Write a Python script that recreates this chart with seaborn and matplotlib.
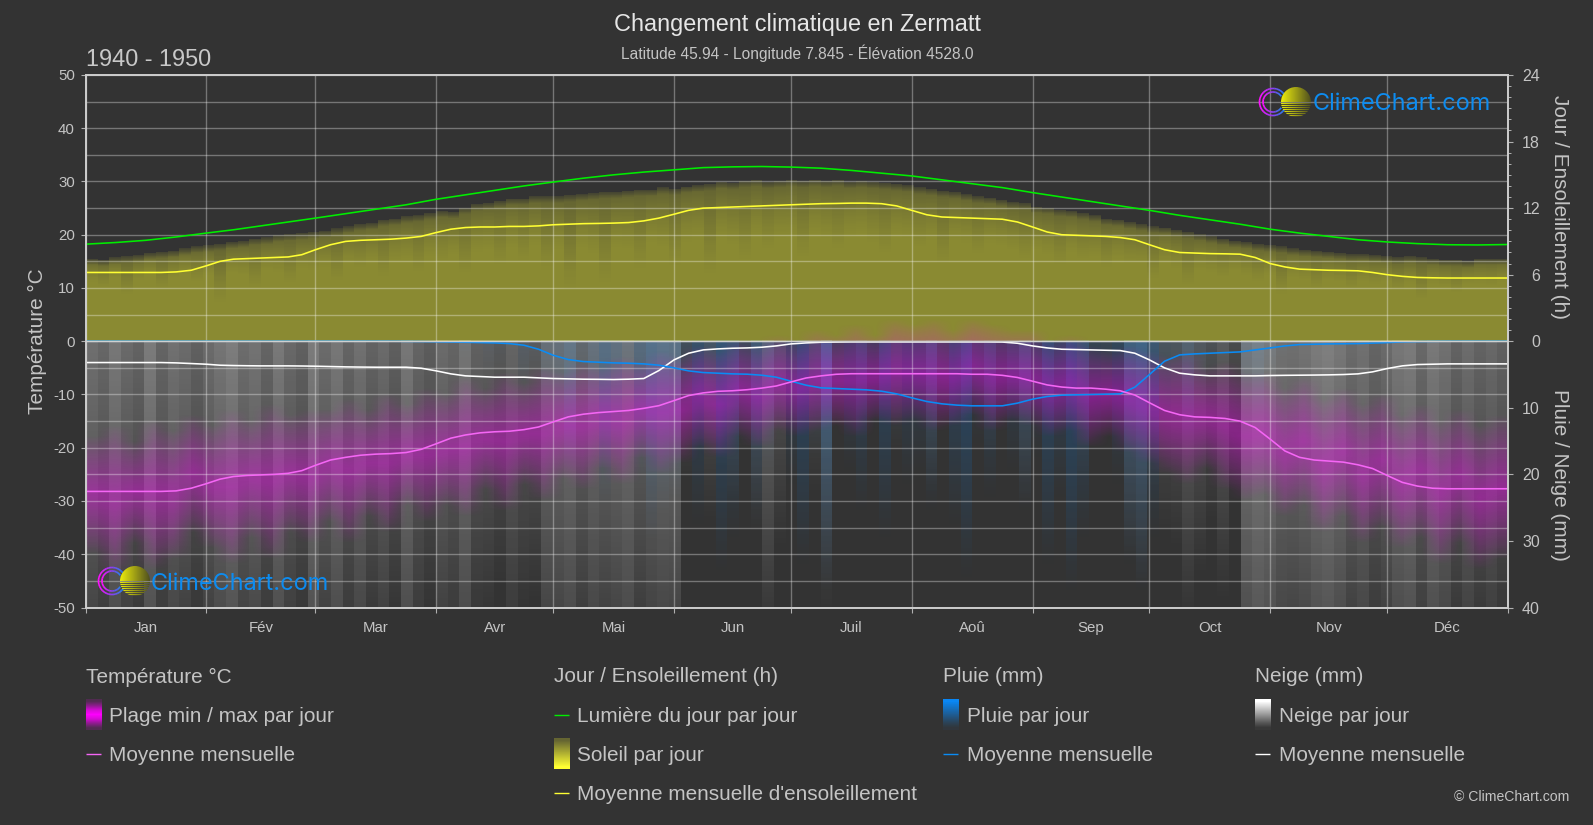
import numpy as np
import matplotlib
matplotlib.use("Agg")
import matplotlib.pyplot as plt
import seaborn as sns
from matplotlib.colors import LinearSegmentedColormap
from matplotlib.patches import Arc, Circle

BG = "#333333"
TXT = "#c4c4c4"
W_PX, H_PX = 1593, 825

months = ["Jan", "Fév", "Mar", "Avr", "Mai", "Jun", "Juil", "Aoû", "Sep", "Oct", "Nov", "Déc"]
month_len = [31, 28, 31, 30, 31, 30, 31, 31, 30, 31, 30, 31]

# monthly curves, read 8 times per month + the year end
temp_mean = [-28.2, -28.2, -28.2, -28.2, -28.2, -28.2, -28.1, -27.6,
             -26.75, -25.9, -25.4, -25.2, -25.1, -25.0, -24.8, -24.3,
             -23.3, -22.3, -21.8, -21.4, -21.2, -21.1, -20.9, -20.3,
             -19.25, -18.2, -17.6, -17.2, -17.0, -16.9, -16.6, -16.1,
             -15.15, -14.2, -13.7, -13.4, -13.2, -13.0, -12.6, -12.1,
             -11.15, -10.2, -9.7, -9.4, -9.3, -9.1, -8.8, -8.4,
             -7.65, -6.9, -6.5, -6.2, -6.1, -6.1, -6.1, -6.1,
             -6.1, -6.1, -6.1, -6.1, -6.2, -6.2, -6.4, -6.8,
             -7.5, -8.2, -8.6, -8.8, -8.8, -9.0, -9.3, -10.1,
             -11.55, -13.0, -13.8, -14.2, -14.3, -14.5, -15.0, -16.2,
             -18.4, -20.6, -21.8, -22.3, -22.5, -22.7, -23.2, -23.9,
             -25.2, -26.5, -27.2, -27.6, -27.7, -27.7, -27.7, -27.7, -27.7]
sun_mean = [6.2, 6.2, 6.2, 6.2, 6.2, 6.2, 6.25, 6.4,
            6.8, 7.2, 7.4, 7.45, 7.5, 7.55, 7.6, 7.8,
            8.25, 8.7, 9.0, 9.1, 9.15, 9.2, 9.3, 9.45,
            9.8, 10.1, 10.25, 10.3, 10.3, 10.35, 10.35, 10.4,
            10.5, 10.55, 10.6, 10.62, 10.65, 10.7, 10.85, 11.1,
            11.45, 11.8, 12.0, 12.05, 12.1, 12.15, 12.2, 12.25,
            12.3, 12.35, 12.4, 12.42, 12.45, 12.45, 12.4, 12.2,
            11.8, 11.4, 11.2, 11.15, 11.1, 11.05, 11.0, 10.75,
            10.3, 9.85, 9.6, 9.55, 9.5, 9.45, 9.35, 9.15,
            8.7, 8.25, 8.0, 7.95, 7.9, 7.88, 7.85, 7.55,
            7.0, 6.7, 6.5, 6.45, 6.4, 6.38, 6.35, 6.2,
            6.0, 5.85, 5.75, 5.72, 5.7, 5.7, 5.7, 5.7, 5.7]
rain_mean = [0, 0, 0, 0, 0, 0, 0, 0,
             0, 0, 0, 0, 0, 0, 0, 0,
             0, 0, 0, 0, 0, 0, 0.02, 0.04,
             0.08, 0.12, 0.15, 0.2, 0.25, 0.35, 0.6, 1.2,
             2.1, 2.75, 3.05, 3.15, 3.25, 3.3, 3.4, 3.6,
             4.0, 4.45, 4.7, 4.8, 4.9, 4.95, 5.1, 5.4,
             6.0, 6.6, 7.0, 7.1, 7.2, 7.3, 7.5, 7.9,
             8.5, 9.05, 9.4, 9.6, 9.7, 9.7, 9.7, 9.3,
             8.7, 8.3, 8.1, 8.05, 8.0, 7.95, 7.9, 6.9,
             5.0, 3.0, 2.05, 1.9, 1.8, 1.7, 1.6, 1.3,
             1.0, 0.7, 0.5, 0.45, 0.4, 0.38, 0.35, 0.28,
             0.2, 0.1, 0.05, 0.02, 0, 0, 0, 0, 0]
snow_mean = [3.2, 3.2, 3.2, 3.2, 3.2, 3.2, 3.25, 3.35,
             3.45, 3.6, 3.65, 3.68, 3.7, 3.7, 3.7, 3.72,
             3.75, 3.8, 3.85, 3.88, 3.9, 3.9, 3.9, 4.05,
             4.45, 4.9, 5.2, 5.3, 5.4, 5.4, 5.4, 5.5,
             5.6, 5.65, 5.7, 5.72, 5.75, 5.7, 5.6, 4.4,
             2.8, 1.8, 1.3, 1.15, 1.05, 1.0, 0.9, 0.7,
             0.4, 0.25, 0.15, 0.12, 0.1, 0.1, 0.1, 0.1,
             0.1, 0.1, 0.1, 0.1, 0.1, 0.1, 0.12, 0.3,
             0.7, 1.0, 1.2, 1.25, 1.3, 1.35, 1.4, 1.8,
             2.8, 4.0, 4.8, 5.05, 5.2, 5.2, 5.2, 5.2,
             5.15, 5.12, 5.1, 5.08, 5.05, 5.0, 4.9, 4.6,
             4.1, 3.7, 3.5, 3.45, 3.4, 3.4, 3.4, 3.4, 3.4]
# the daylight curve is read 4 times per month
daylight = [8.75, 8.9, 9.1, 9.4, 9.75, 10.05, 10.4, 10.75, 11.1, 11.5, 11.9, 12.3,
            12.8, 13.2, 13.6, 14.0, 14.35, 14.7, 15.0, 15.25, 15.45, 15.65, 15.72, 15.75,
            15.7, 15.6, 15.4, 15.15, 14.9, 14.55, 14.2, 13.85, 13.4, 13.0, 12.6, 12.2,
            11.8, 11.35, 10.95, 10.55, 10.1, 9.75, 9.45, 9.15, 8.95, 8.8, 8.7, 8.68, 8.72]

# daily streaks, one value for every 3 days
snow_reach = [60, 52, 68, 55, 48, 72, 50, 62, 56, 46,
              56, 66, 74, 58, 64, 50, 70, 54, 46, 72,
              56, 68, 50, 62, 48, 56, 44, 68, 50, 42,
              56, 50, 66, 46, 44, 38, 50, 42, 40, 60,
              60, 66, 52, 62, 56, 60, 66, 52, 58, 62,
              60, 22, 18, 28, 20, 25, 18, 30, 48, 32,
              14, 12, 24, 42, 14, 10, 16, 8, 12, 18,
              8, 10, 24, 12, 8, 14, 10, 18, 8, 12,
              26, 10, 14, 8, 14, 22, 10, 12, 8, 34,
              38, 24, 30, 32, 44, 36, 28, 40, 24, 70,
              78, 72, 62, 60, 64, 72, 76, 68, 56, 62,
              50, 56, 68, 72, 54, 70, 62, 48, 58, 48, 54, 46]
rain_reach = [0, 0, 0, 0, 0, 0, 0, 0, 0, 0,
              0, 0, 0, 0, 0, 0, 0, 0, 0, 0,
              0, 0, 0, 0, 0, 0, 0, 0, 0, 0,
              0, 0, 3, 0, 5, 4, 0, 8, 5, 10,
              12, 20, 8, 14, 25, 18, 10, 22, 30, 26,
              24, 14, 28, 18, 35, 30, 16, 28, 20, 14,
              22, 34, 18, 38, 12, 20, 26, 14, 30, 16,
              22, 20, 26, 12, 28, 36, 16, 24, 14, 20,
              26, 18, 34, 24, 38, 30, 16, 14, 22, 34,
              38, 30, 12, 10, 16, 8, 6, 4, 3, 10,
              12, 6, 3, 2, 0, 0, 2, 0, 0, 0,
              0, 0, 0, 0, 0, 0, 0, 0, 0, 0, 0, 0]
sun_top = [7.4, 7.3, 7.5, 7.6, 7.7, 7.9, 8.0, 8.1, 8.3, 8.5,
           8.6, 8.7, 8.9, 9.0, 9.2, 9.3, 9.5, 9.6, 9.7, 9.8,
           9.9, 10.1, 10.3, 10.5, 10.6, 10.9, 11.0, 11.2, 11.3, 11.5,
           11.7, 11.6, 12.0, 12.3, 12.4, 12.6, 12.8, 12.8, 13.0, 13.0,
           13.0, 13.1, 13.2, 13.3, 13.4, 13.4, 13.5, 13.6, 13.6, 13.8,
           13.7, 13.9, 14.0, 14.1, 14.3, 14.2, 14.4, 14.5, 14.3, 14.4,
           14.5, 14.4, 14.5, 14.4, 14.5, 14.3, 14.4, 14.3, 14.2, 14.1,
           14.0, 13.8, 13.7, 13.5, 13.4, 13.2, 13.0, 12.9, 12.7, 12.5,
           12.4, 12.1, 12.0, 11.8, 11.7, 11.5, 11.3, 11.0, 10.9, 10.7,
           10.5, 10.3, 10.2, 10.0, 9.8, 9.6, 9.4, 9.2, 9.0, 8.9,
           8.7, 8.6, 8.5, 8.3, 8.2, 8.1, 8.0, 7.9, 7.8, 7.8,
           7.7, 7.6, 7.5, 7.6, 7.5, 7.4, 7.3, 7.3, 7.2, 7.4, 7.4, 7.4]
sun_low = [5.2, 4.8, 5.6, 4.0, 5.4, 5.8, 4.6, 5.6, 5.9, 5.2,
           5.8, 3.2, 6.0, 5.8, 4.6, 6.2, 6.0, 5.0, 6.4, 6.2,
           6.5, 5.2, 6.8, 6.4, 7.0, 5.6, 7.0, 7.2, 6.0, 7.4,
           7.0, 7.6, 5.8, 7.8, 8.0, 6.6, 8.2, 7.0, 8.4, 6.0,
           8.0, 4.2, 8.2, 7.6, 4.8, 8.2, 8.0, 6.2, 8.6, 8.2,
           6.4, 8.6, 8.8, 5.6, 9.0, 8.4, 7.0, 9.2, 8.0, 9.0,
           9.0, 7.2, 9.4, 9.0, 8.0, 9.2, 9.4, 8.6, 7.6, 9.2,
           9.0, 8.2, 8.8, 6.6, 8.8, 8.6, 7.6, 8.6, 8.4, 8.0,
           7.2, 8.0, 7.6, 6.6, 7.8, 7.2, 7.4, 6.4, 7.2, 6.8,
           6.8, 5.4, 6.8, 6.4, 4.8, 6.2, 6.0, 5.6, 6.2, 5.8,
           5.2, 5.8, 4.0, 5.6, 5.4, 4.6, 5.4, 5.2, 4.6, 5.2,
           5.0, 5.2, 4.4, 5.0, 3.6, 5.0, 4.8, 4.2, 5.0, 5.0, 4.9, 5.2]

# min / max range, one value for every 5 days
temp_high = [-18, -16, -19, -15, -17, -14, -16, -13, -15, -12, -14, -13,
             -13, -11, -13, -10, -12, -9, -10, -7, -9, -6, -8, -5,
             -6, -4, -5, -3, -4, -2, -3, -1, -2, 0, -1, 1,
             0, 2, 1, 3, 1, 4, 3, 4, 2, 4, 3, 2,
             2, 0, 1, -1, -2, -1, -2, -3, -2, -5, -4, -6,
             -6, -9, -7, -11, -9, -12, -10, -14, -12, -15, -13, -16, -14]
temp_low = [-40, -44, -38, -43, -41, -36, -39, -42, -37, -41, -36, -38,
            -34, -38, -33, -36, -31, -34, -31, -33, -28, -32, -27, -30,
            -26, -28, -24, -27, -22, -25, -23, -20, -22, -18, -20, -17,
            -18, -17, -16, -18, -15, -16, -15, -17, -16, -14, -17, -15,
            -16, -18, -17, -20, -18, -21, -23, -25, -27, -24, -28, -30,
            -29, -33, -31, -36, -33, -38, -35, -39, -37, -42, -38, -43, -41]

sns.set_theme(style="dark", rc={
    "figure.facecolor": BG, "axes.facecolor": BG, "savefig.facecolor": BG,
    "axes.edgecolor": "#cccccc", "text.color": TXT,
    "xtick.color": "#b0b0b0", "ytick.color": "#b0b0b0",
    "xtick.labelcolor": TXT, "ytick.labelcolor": TXT,
})
plt.rcParams["font.family"] = ["Liberation Sans", "DejaVu Sans"]


def px(size):
    return size * 0.72


def wedge_rgba(reach, rgb, slope, top, limit):
    # streak fades out from the axis line down to its reach
    y = np.linspace(0, top, 400)[:, None]
    reach = np.asarray(reach, float)[None, :]
    img = np.zeros((400, reach.size, 4))
    img[..., :3] = np.array(rgb) / 255
    img[..., 3] = np.clip(slope * (reach - y), 0, limit)
    return img


def sun_rgba(top_vals, low_vals, top):
    y = np.linspace(0, top, 600)[:, None]
    hi = np.asarray(top_vals)[None, :]
    lo = np.asarray(low_vals)[None, :]
    frac = np.clip((y - lo) / (hi - lo), 0, 1)
    img = np.zeros((600, hi.size, 4))
    img[..., :3] = np.array([255, 255, 50]) / 255
    edge = np.clip((hi - y) / 0.9 + 0.35, 0, 1)
    img[..., 3] = np.where(y <= hi, (0.43 - 0.2 * frac ** 1.5) * edge, 0)
    return img


def band_rgba(high, low):
    y = np.linspace(-50, 50, 500)[:, None]
    high = np.asarray(high, float)[None, :]
    low = np.asarray(low, float)[None, :]
    mid = (high + low) / 2
    half = (high - low) / 2
    img = np.zeros((500, high.size, 4))
    img[..., :3] = np.array([255, 0, 255]) / 255
    img[..., 3] = 0.4 * np.clip(1 - np.abs(y - mid) / half, 0, 1) ** 0.8
    return img


fig = plt.figure(figsize=(W_PX / 100, H_PX / 100), dpi=100)
left, right, top, bottom = 85.5, 1508, 75, 607.5
ax = fig.add_axes([left / W_PX, 1 - bottom / H_PX, (right - left) / W_PX, (bottom - top) / H_PX])
ax_sun = ax.twinx()
ax_rain = ax.twinx()
for a in (ax_sun, ax_rain):
    a.patch.set_visible(False)
    a.grid(False)


def set_limits():
    ax.set_xlim(0, 365)
    ax.set_ylim(-50, 50)
    ax_sun.set_ylim(-24, 24)
    ax_rain.set_ylim(40, -40)


set_limits()

ax.imshow(wedge_rgba(snow_reach, (255, 255, 255), 0.005, 40, 0.6), extent=[0, 365, 0, 40], origin="lower",
          aspect="auto", interpolation="nearest", transform=ax_rain.transData, zorder=0.5)
ax.imshow(wedge_rgba(rain_reach, (10, 130, 240), 0.008, 40, 0.5), extent=[0, 365, 0, 40], origin="lower",
          aspect="auto", interpolation="nearest", transform=ax_rain.transData, zorder=0.6)
ax.imshow(sun_rgba(sun_top, sun_low, 24), extent=[0, 365, 0, 24], origin="lower",
          aspect="auto", interpolation="nearest", transform=ax_sun.transData, zorder=0.7)
ax.imshow(band_rgba(temp_high, temp_low), extent=[0, 365, -50, 50], origin="lower",
          aspect="auto", interpolation="bilinear", zorder=0.8)

edges = np.cumsum([0] + month_len)
curve_days = np.append(np.concatenate([s + np.arange(8) / 8 * n for s, n in zip(edges[:-1], month_len)]), 365)
daylight_days = curve_days[::2]

line_kw = dict(linewidth=1.15, zorder=3, legend=False, errorbar=None, ax=ax)
sns.lineplot(x=curve_days, y=snow_mean, color="#ffffff", transform=ax_rain.transData, **line_kw)
sns.lineplot(x=curve_days, y=rain_mean, color="#0a8cf5", transform=ax_rain.transData, **line_kw)
sns.lineplot(x=curve_days, y=temp_mean, color="#f566f5", **line_kw)
sns.lineplot(x=daylight_days, y=daylight, color="#00ee00", transform=ax_sun.transData, **line_kw)
sns.lineplot(x=curve_days, y=sun_mean, color="#ffff33", transform=ax_sun.transData, **line_kw)
set_limits()

# axes, ticks, grid
ax.set_axisbelow(False)
ax.set_yticks(np.arange(-50, 51, 10))
ax.set_yticks(np.arange(-45, 50, 10), minor=True)
ax.set_yticklabels([str(v) for v in range(-50, 51, 10)])
ax.set_xticks(edges)
ax.set_xticklabels([])
ax.set_xticks(edges[:-1] + np.array(month_len) / 2, months, minor=True)
ax.grid(True, which="major", axis="both", color="#ffffff", alpha=0.33, linewidth=1)
ax.grid(True, which="minor", axis="y", color="#ffffff", alpha=0.33, linewidth=1)
ax.tick_params(axis="x", which="major", length=3.6, width=0.8, bottom=True)
ax.tick_params(axis="x", which="minor", length=0, pad=9.7, labelsize=px(15), bottom=False)
ax.tick_params(axis="y", which="major", length=3.6, width=0.8, pad=4, labelsize=px(15), left=True)
ax.tick_params(axis="y", which="minor", length=0, left=False)

ax_sun.set_yticks(np.arange(0, 25, 6))
ax_sun.set_yticks(np.arange(1, 24), minor=True)
ax_sun.tick_params(axis="y", which="major", length=3.6, width=0.8, pad=19.4, labelsize=px(16), right=True)
ax_sun.tick_params(axis="y", which="minor", length=2, width=0.7, right=True)
ax_rain.set_yticks([10, 20, 30, 40])
ax_rain.tick_params(axis="y", which="major", length=3.6, width=0.8, pad=19.4, labelsize=px(16), right=True)
for a in (ax_sun, ax_rain):
    for tick_label in a.get_yticklabels():
        tick_label.set_ha("right")
for a in (ax, ax_sun, ax_rain):
    for spine in a.spines.values():
        spine.set_color("#cccccc")
        spine.set_linewidth(1.1)

# texts, legend and logos use an overlay in picture pixels
ov = fig.add_axes([0, 0, 1, 1], zorder=10)
ov.patch.set_visible(False)
ov.axis("off")
ov.set_xlim(0, W_PX)
ov.set_ylim(H_PX, 0)
ov.axhline(341.25, xmin=left / W_PX, xmax=right / W_PX, color="#d0d0d0", linewidth=1.0, zorder=1)


def label(x, y, s, size=20.8, ha="left", **kw):
    kw.setdefault("color", TXT)
    ov.text(x, y, s, fontsize=px(size), ha=ha, va="center", **kw)


label(797, 24, "Changement climatique en Zermatt", size=23.5, ha="center", color="#e6e6e6")
label(797, 53, "Latitude 45.94 - Longitude 7.845 - Élévation 4528.0", size=15.5, ha="center")
label(86, 60, "1940 - 1950", size=23.5, color="#c8c8c8")
label(37.5, 341, "Température °C", rotation=90, ha="center")
label(1560, 207, "Jour / Ensoleillement (h)", rotation=270, ha="center")
label(1560, 475, "Pluie / Neige (mm)", rotation=270, ha="center")
label(1569, 797, "© ClimeChart.com", size=14, ha="right")


def swatch(x, y, rgb, alphas):
    img = np.zeros((len(alphas), 1, 4))
    img[..., :3] = np.array(rgb) / 255
    img[:, 0, 3] = alphas
    ov.imshow(img, extent=[x, x + 15.5, y + 15.5, y - 15.5], aspect="auto", interpolation="bilinear", zorder=2)


def dash(x, y, color):
    ov.plot([x, x + 15], [y, y], color=color, linewidth=1.0, zorder=2, solid_capstyle="butt")


rows = [715, 754, 793]
text_rows = [716.5, 755.5, 794.5]
head_y = 677
label(86, head_y, "Température °C")
swatch(86, rows[0], (255, 0, 255), [0.15, 0.45, 0.8, 1, 0.8, 0.45, 0.15])
label(109, text_rows[0], "Plage min / max par jour")
dash(86, rows[1], "#f566f5")
label(109, text_rows[1], "Moyenne mensuelle")

label(554, head_y, "Jour / Ensoleillement (h)")
dash(554, rows[0], "#00ee00")
label(577, text_rows[0], "Lumière du jour par jour")
swatch(554, rows[1], (255, 255, 50), [0.25, 0.4, 0.55, 0.7, 0.85, 1])
label(577, text_rows[1], "Soleil par jour")
dash(554, rows[2], "#ffff33")
label(577, text_rows[2], "Moyenne mensuelle d'ensoleillement")

label(943, head_y, "Pluie (mm)")
swatch(943, rows[0], (10, 135, 245), [1, 0.8, 0.6, 0.4, 0.2, 0.05])
label(967, text_rows[0], "Pluie par jour")
dash(943, rows[1], "#0a8cf5")
label(967, text_rows[1], "Moyenne mensuelle")

label(1255, head_y, "Neige (mm)")
swatch(1255, rows[0], (255, 255, 255), [1, 0.8, 0.6, 0.4, 0.2, 0.03])
label(1279, text_rows[0], "Neige par jour")
dash(1255, rows[1], "#ffffff")
label(1279, text_rows[1], "Moyenne mensuelle")

ring_cmap = LinearSegmentedColormap.from_list("ring", ["#ff10ff", "#8a40f0", "#1090f0"])


def logo(cx, cy, text_x):
    for r in (13.5, 10):
        for a0 in range(35, 325, 10):
            shade = (1 + np.cos(np.radians(a0 + 5))) / 2
            ov.add_patch(Arc((cx, cy), 2 * r, 2 * r, theta1=a0, theta2=a0 + 11,
                             color=ring_cmap(shade), linewidth=1.2, zorder=3))
    sx, sr = cx + 23, 15
    grad = np.zeros((30, 30, 4))
    grad[..., 0] = grad[..., 1] = np.linspace(0.92, 0.32, 30)[None, :]
    grad[..., 2] = np.linspace(0.05, 0.12, 30)[None, :]
    grad[..., 3] = 1
    grad[15::2, :, 3] = 0.15
    sun = ov.imshow(grad, extent=[sx - sr, sx + sr, cy + sr, cy - sr], aspect="auto", zorder=4, interpolation="nearest")
    sun.set_clip_path(Circle((sx, cy), sr, transform=ov.transData))
    ov.text(text_x, cy + 2.5, "ClimeChart.com", fontsize=px(23.5), ha="left", va="center",
            color="#0d8cf0", family=["Inter", "DejaVu Sans"], zorder=4)


logo(1273, 102, 1313)
logo(112, 581, 151)
ov.set_xlim(0, W_PX)
ov.set_ylim(H_PX, 0)
set_limits()

fig.savefig("out.png", dpi=100)
